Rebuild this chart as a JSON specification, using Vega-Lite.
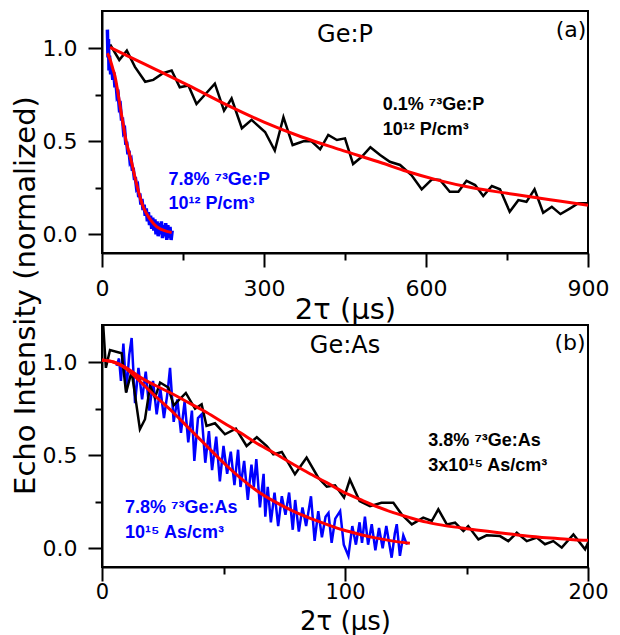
{
  "$schema": "https://vega.github.io/schema/vega-lite/v6.json",
  "background": "white",
  "padding": {"left": 10, "top": 10, "right": 5, "bottom": 0},
  "bounds": "flush",
  "spacing": 72,
  "config": {
    "view": {"stroke": "black", "strokeWidth": 2},
    "axis": {
      "domainColor": "black", "domainWidth": 2, "tickColor": "black", "tickWidth": 2,
      "labelColor": "black", "titleColor": "black", "labelFont": "DejaVu Sans", "labelFontSize": 22,
      "titleFont": "DejaVu Sans", "titleFontSize": 29, "titleFontWeight": "normal",
      "grid": false, "labelFlush": false, "labelOverlap": false
    },
    "text": {"font": "Liberation Sans"}
  },
  "datasets": {
    "topBlack": [
      {"x": 15, "y": 1.02}, {"x": 32, "y": 0.937}, {"x": 46, "y": 0.987}, {"x": 61, "y": 0.9}, {"x": 80, "y": 0.82},
      {"x": 95, "y": 0.83}, {"x": 113, "y": 0.866}, {"x": 129, "y": 0.88}, {"x": 144, "y": 0.79}, {"x": 160, "y": 0.8},
      {"x": 175, "y": 0.7}, {"x": 193, "y": 0.758}, {"x": 209, "y": 0.81}, {"x": 226, "y": 0.665}, {"x": 240, "y": 0.73},
      {"x": 259, "y": 0.57}, {"x": 277, "y": 0.615}, {"x": 302, "y": 0.55}, {"x": 320, "y": 0.45}, {"x": 336, "y": 0.63},
      {"x": 353, "y": 0.48}, {"x": 373, "y": 0.5}, {"x": 388, "y": 0.5}, {"x": 404, "y": 0.457}, {"x": 419, "y": 0.534},
      {"x": 435, "y": 0.507}, {"x": 450, "y": 0.516}, {"x": 465, "y": 0.378}, {"x": 481, "y": 0.417}, {"x": 497, "y": 0.468},
      {"x": 515, "y": 0.426}, {"x": 533, "y": 0.39}, {"x": 552, "y": 0.373}, {"x": 573, "y": 0.319}, {"x": 592, "y": 0.242},
      {"x": 611, "y": 0.296}, {"x": 626, "y": 0.292}, {"x": 644, "y": 0.229}, {"x": 660, "y": 0.229}, {"x": 675, "y": 0.288},
      {"x": 691, "y": 0.265}, {"x": 706, "y": 0.206}, {"x": 722, "y": 0.26}, {"x": 737, "y": 0.242}, {"x": 755, "y": 0.122},
      {"x": 771, "y": 0.184}, {"x": 786, "y": 0.175}, {"x": 801, "y": 0.242}, {"x": 817, "y": 0.116}, {"x": 833, "y": 0.148},
      {"x": 849, "y": 0.109}, {"x": 867, "y": 0.14}, {"x": 882, "y": 0.167}, {"x": 900, "y": 0.167}
    ],
    "topBlackFit": [
      {"x": 15, "y": 1.005}, {"x": 50, "y": 0.955}, {"x": 100, "y": 0.885}, {"x": 160, "y": 0.8}, {"x": 230, "y": 0.697},
      {"x": 300, "y": 0.603}, {"x": 370, "y": 0.523}, {"x": 441, "y": 0.455}, {"x": 520, "y": 0.382}, {"x": 564, "y": 0.339},
      {"x": 620, "y": 0.293}, {"x": 688, "y": 0.249}, {"x": 750, "y": 0.221}, {"x": 799, "y": 0.199}, {"x": 850, "y": 0.178},
      {"x": 900, "y": 0.157}
    ],
    "topBlue": [
      {"x": 10, "y": 1.1}, {"x": 11, "y": 0.95}, {"x": 12, "y": 1.05}, {"x": 13, "y": 0.88}, {"x": 14, "y": 0.96},
      {"x": 16, "y": 0.86}, {"x": 18, "y": 0.9}, {"x": 20, "y": 0.83}, {"x": 22, "y": 0.87}, {"x": 24, "y": 0.79},
      {"x": 26, "y": 0.81}, {"x": 28, "y": 0.74}, {"x": 30, "y": 0.75}, {"x": 32, "y": 0.68}, {"x": 34, "y": 0.69},
      {"x": 36, "y": 0.62}, {"x": 38, "y": 0.62}, {"x": 40, "y": 0.55}, {"x": 42, "y": 0.56}, {"x": 44, "y": 0.49},
      {"x": 46, "y": 0.49}, {"x": 48, "y": 0.43}, {"x": 50, "y": 0.45}, {"x": 52, "y": 0.39}, {"x": 54, "y": 0.4},
      {"x": 56, "y": 0.35}, {"x": 58, "y": 0.35}, {"x": 60, "y": 0.3}, {"x": 62, "y": 0.3}, {"x": 64, "y": 0.25},
      {"x": 66, "y": 0.26}, {"x": 68, "y": 0.2}, {"x": 70, "y": 0.22}, {"x": 72, "y": 0.16}, {"x": 74, "y": 0.19},
      {"x": 76, "y": 0.13}, {"x": 78, "y": 0.16}, {"x": 80, "y": 0.1}, {"x": 82, "y": 0.14}, {"x": 84, "y": 0.07},
      {"x": 86, "y": 0.12}, {"x": 88, "y": 0.05}, {"x": 90, "y": 0.1}, {"x": 92, "y": 0.03}, {"x": 94, "y": 0.09},
      {"x": 96, "y": 0.02}, {"x": 98, "y": 0.08}, {"x": 100, "y": 0.0}, {"x": 102, "y": 0.07}, {"x": 104, "y": -0.01},
      {"x": 106, "y": 0.06}, {"x": 108, "y": 0.0}, {"x": 110, "y": 0.07}, {"x": 112, "y": -0.02}, {"x": 114, "y": 0.05},
      {"x": 116, "y": -0.01}, {"x": 118, "y": 0.06}, {"x": 120, "y": -0.03}, {"x": 122, "y": 0.05}, {"x": 124, "y": -0.02},
      {"x": 126, "y": 0.04}, {"x": 128, "y": -0.03}, {"x": 130, "y": 0.02}
    ],
    "topBlueFit": [
      {"x": 10, "y": 0.973}, {"x": 15, "y": 0.94}, {"x": 20, "y": 0.89}, {"x": 24, "y": 0.85}, {"x": 29, "y": 0.77},
      {"x": 34, "y": 0.68}, {"x": 39, "y": 0.595}, {"x": 44, "y": 0.51}, {"x": 50, "y": 0.44}, {"x": 55, "y": 0.385},
      {"x": 60, "y": 0.32}, {"x": 64, "y": 0.27}, {"x": 70, "y": 0.205}, {"x": 76, "y": 0.15}, {"x": 83, "y": 0.11},
      {"x": 92, "y": 0.07}, {"x": 101, "y": 0.042}, {"x": 110, "y": 0.027}, {"x": 120, "y": 0.016}, {"x": 129, "y": 0.01}
    ],
    "botBlack": [
      {"x": 0.5, "y": 1.2}, {"x": 1.6, "y": 0.97}, {"x": 3.3, "y": 1.066}, {"x": 8.1, "y": 1.048}, {"x": 9.9, "y": 0.837},
      {"x": 12.2, "y": 0.95}, {"x": 15.6, "y": 0.64}, {"x": 17.7, "y": 0.694}, {"x": 19.8, "y": 0.874}, {"x": 21.8, "y": 0.81},
      {"x": 23.9, "y": 0.891}, {"x": 27.3, "y": 0.864}, {"x": 29.5, "y": 0.768}, {"x": 34.5, "y": 0.835}, {"x": 38.3, "y": 0.75},
      {"x": 41, "y": 0.774}, {"x": 43, "y": 0.658}, {"x": 46.5, "y": 0.672}, {"x": 50.6, "y": 0.613}, {"x": 55.1, "y": 0.643},
      {"x": 59.5, "y": 0.55}, {"x": 63.7, "y": 0.597}, {"x": 67.8, "y": 0.55}, {"x": 70.5, "y": 0.505}, {"x": 74, "y": 0.518},
      {"x": 79.4, "y": 0.398}, {"x": 84.2, "y": 0.488}, {"x": 89, "y": 0.38}, {"x": 92.5, "y": 0.331}, {"x": 95.9, "y": 0.339},
      {"x": 99.6, "y": 0.273}, {"x": 102, "y": 0.37}, {"x": 106, "y": 0.254}, {"x": 110.3, "y": 0.227}, {"x": 115, "y": 0.245},
      {"x": 119.9, "y": 0.245}, {"x": 123.3, "y": 0.183}, {"x": 127.5, "y": 0.129}, {"x": 132.2, "y": 0.165}, {"x": 135.7, "y": 0.147},
      {"x": 138.4, "y": 0.21}, {"x": 141.9, "y": 0.129}, {"x": 145.3, "y": 0.138}, {"x": 148.7, "y": 0.093}, {"x": 150.7, "y": 0.12},
      {"x": 154.9, "y": 0.048}, {"x": 158.3, "y": 0.07}, {"x": 163.8, "y": 0.066}, {"x": 167.2, "y": 0.039}, {"x": 170.7, "y": 0.084},
      {"x": 174.8, "y": 0.039}, {"x": 178.9, "y": 0.058}, {"x": 182.3, "y": 0.022}, {"x": 185.7, "y": 0.039}, {"x": 189.2, "y": 0.004},
      {"x": 194, "y": 0.075}, {"x": 198.8, "y": -0.005}, {"x": 200, "y": 0.03}
    ],
    "botBlackFit": [
      {"x": 0, "y": 1.012}, {"x": 5, "y": 1.0}, {"x": 10, "y": 0.97}, {"x": 15.6, "y": 0.92}, {"x": 22, "y": 0.875},
      {"x": 29.3, "y": 0.828}, {"x": 36, "y": 0.78}, {"x": 43.1, "y": 0.73}, {"x": 50, "y": 0.675}, {"x": 56.8, "y": 0.622},
      {"x": 63, "y": 0.57}, {"x": 70.5, "y": 0.515}, {"x": 78.7, "y": 0.452}, {"x": 85, "y": 0.405}, {"x": 92.5, "y": 0.353},
      {"x": 99, "y": 0.305}, {"x": 106.2, "y": 0.263}, {"x": 113, "y": 0.225}, {"x": 119.9, "y": 0.192}, {"x": 126.7, "y": 0.165},
      {"x": 133.6, "y": 0.141}, {"x": 140, "y": 0.125}, {"x": 147.3, "y": 0.111}, {"x": 154, "y": 0.099}, {"x": 161, "y": 0.088},
      {"x": 168, "y": 0.077}, {"x": 174.8, "y": 0.066}, {"x": 181, "y": 0.059}, {"x": 188.5, "y": 0.052}, {"x": 194, "y": 0.047},
      {"x": 200, "y": 0.043}
    ],
    "botBlue": [
      {"x": 6, "y": 0.98}, {"x": 7, "y": 1.02}, {"x": 7.8, "y": 0.9}, {"x": 8.8, "y": 1.1}, {"x": 10, "y": 0.84},
      {"x": 11.2, "y": 1.04}, {"x": 12.2, "y": 1.13}, {"x": 13.6, "y": 0.78}, {"x": 15, "y": 0.97}, {"x": 16.5, "y": 0.8},
      {"x": 18, "y": 0.95}, {"x": 19.5, "y": 0.74}, {"x": 21, "y": 0.9}, {"x": 22.5, "y": 0.72}, {"x": 24, "y": 0.86},
      {"x": 25.5, "y": 0.7}, {"x": 27, "y": 0.84}, {"x": 28, "y": 0.97}, {"x": 29.5, "y": 0.68}, {"x": 31, "y": 0.8},
      {"x": 32.5, "y": 0.62}, {"x": 34, "y": 0.79}, {"x": 35.5, "y": 0.57}, {"x": 37, "y": 0.74}, {"x": 38, "y": 0.47},
      {"x": 39.5, "y": 0.7}, {"x": 41, "y": 0.72}, {"x": 42.5, "y": 0.46}, {"x": 44, "y": 0.63}, {"x": 45.3, "y": 0.42},
      {"x": 47, "y": 0.6}, {"x": 48.5, "y": 0.36}, {"x": 50, "y": 0.55}, {"x": 51.5, "y": 0.4}, {"x": 53, "y": 0.52},
      {"x": 54.5, "y": 0.34}, {"x": 56, "y": 0.53}, {"x": 57, "y": 0.33}, {"x": 58.5, "y": 0.47}, {"x": 60, "y": 0.26},
      {"x": 61.5, "y": 0.45}, {"x": 62.5, "y": 0.33}, {"x": 63.5, "y": 0.48}, {"x": 65, "y": 0.22}, {"x": 66.5, "y": 0.4},
      {"x": 67.2, "y": 0.17}, {"x": 68.2, "y": 0.33}, {"x": 69.5, "y": 0.14}, {"x": 71, "y": 0.3}, {"x": 72.5, "y": 0.12},
      {"x": 74, "y": 0.28}, {"x": 75.5, "y": 0.18}, {"x": 77, "y": 0.3}, {"x": 78.5, "y": 0.1}, {"x": 79.5, "y": 0.26},
      {"x": 81, "y": 0.09}, {"x": 82.5, "y": 0.22}, {"x": 84, "y": 0.12}, {"x": 86, "y": 0.28}, {"x": 87.5, "y": 0.04},
      {"x": 89, "y": 0.2}, {"x": 90.5, "y": 0.06}, {"x": 92, "y": 0.17}, {"x": 93.2, "y": 0.19}, {"x": 94.5, "y": 0.03},
      {"x": 96, "y": 0.16}, {"x": 98, "y": 0.2}, {"x": 99.5, "y": 0.02}, {"x": 101.4, "y": -0.04}, {"x": 103, "y": 0.12},
      {"x": 104.5, "y": 0.02}, {"x": 106, "y": 0.14}, {"x": 107, "y": 0.03}, {"x": 108.2, "y": 0.17}, {"x": 109.5, "y": 0.02},
      {"x": 111, "y": 0.13}, {"x": 112.5, "y": -0.01}, {"x": 114, "y": 0.11}, {"x": 115.5, "y": 0.0}, {"x": 117, "y": 0.12},
      {"x": 119.2, "y": -0.05}, {"x": 120.5, "y": 0.08}, {"x": 121.3, "y": 0.13}, {"x": 122.6, "y": -0.04}, {"x": 124, "y": 0.07},
      {"x": 125.5, "y": 0.02}
    ],
    "botBlueFit": [
      {"x": 0, "y": 1.01}, {"x": 5, "y": 1.0}, {"x": 10, "y": 0.965}, {"x": 15, "y": 0.905}, {"x": 21.1, "y": 0.828},
      {"x": 29.3, "y": 0.73}, {"x": 36.2, "y": 0.64}, {"x": 43.1, "y": 0.55}, {"x": 50, "y": 0.46}, {"x": 56.8, "y": 0.38},
      {"x": 63.7, "y": 0.31}, {"x": 70.5, "y": 0.255}, {"x": 78.7, "y": 0.2}, {"x": 86, "y": 0.16}, {"x": 92.5, "y": 0.129},
      {"x": 99, "y": 0.1}, {"x": 106.2, "y": 0.075}, {"x": 113, "y": 0.055}, {"x": 119.9, "y": 0.039}, {"x": 126.7, "y": 0.027}
    ]
  },
  "vconcat": [
    {
      "width": 486,
      "height": 242,
      "layer": [
        {"data": {"name": "topBlack"}, "mark": {"type": "line", "color": "black", "strokeWidth": 2.5},
         "encoding": {
          "x": {
            "field": "x", "type": "quantitative",
            "scale": {"domain": [0, 900], "nice": false, "zero": false},
            "axis": {
              "title": "2τ (μs)",
              "values": [0, 150, 300, 450, 600, 750, 900],
              "labelExpr": "datum.value % 300 === 0 ? datum.label : ''",
              "tickSize": {"condition": {"test": "datum.value % 300 !== 0", "value": 7}, "value": 14},
              "labelPadding": 11,
              "titleY": 42, "titleBaseline": "top"
            }
          },
          "y": {
            "field": "y", "type": "quantitative",
            "scale": {"domain": [-0.1, 1.2], "nice": false, "zero": false},
            "axis": {
              "title": "Echo Intensity (normalized)",
              "values": [0, 0.25, 0.5, 0.75, 1],
              "format": ".1f",
              "labelExpr": "datum.value === 0.25 || datum.value === 0.75 ? '' : datum.label",
              "tickSize": {"condition": {"test": "datum.value === 0.25 || datum.value === 0.75", "value": 7}, "value": 14},
              "labelPadding": 11,
              "titleX": -77, "titleY": 284, "titleAlign": "center", "titleBaseline": "middle", "titleAngle": -90
            }
          }
        }},
        {"data": {"name": "topBlue"}, "mark": {"type": "line", "color": "#0000ff", "strokeWidth": 3.5},
         "encoding": {"x": {"field": "x", "type": "quantitative"}, "y": {"field": "y", "type": "quantitative"}}},
        {"data": {"name": "topBlackFit"}, "mark": {"type": "line", "color": "#ff0000", "strokeWidth": 3, "interpolate": "monotone"},
         "encoding": {"x": {"field": "x", "type": "quantitative"}, "y": {"field": "y", "type": "quantitative"}}},
        {"data": {"name": "topBlueFit"}, "mark": {"type": "line", "color": "#ff0000", "strokeWidth": 3, "interpolate": "monotone"},
         "encoding": {"x": {"field": "x", "type": "quantitative"}, "y": {"field": "y", "type": "quantitative"}}},
        {"data": {"values": [{}]}, "mark": {"type": "text", "align": "center", "baseline": "alphabetic", "font": "DejaVu Sans", "fontSize": 24, "color": "black"},
         "encoding": {"x": {"datum": 450}, "y": {"datum": 1.034}, "text": {"value": "Ge:P"}}},
        {"data": {"values": [{}]}, "mark": {"type": "text", "align": "right", "baseline": "alphabetic", "font": "DejaVu Sans", "fontSize": 22, "color": "black"},
         "encoding": {"x": {"datum": 897}, "y": {"datum": 1.062}, "text": {"value": "(a)"}}},
        {"data": {"values": [{}]}, "mark": {"type": "text", "align": "left", "baseline": "alphabetic", "fontWeight": "bold", "fontSize": 18, "color": "black"},
         "encoding": {"x": {"datum": 520}, "y": {"datum": 0.668}, "text": {"value": "0.1% ⁷³Ge:P"}}},
        {"data": {"values": [{}]}, "mark": {"type": "text", "align": "left", "baseline": "alphabetic", "fontWeight": "bold", "fontSize": 18, "color": "black"},
         "encoding": {"x": {"datum": 520}, "y": {"datum": 0.534}, "text": {"value": "10¹² P/cm³"}}},
        {"data": {"values": [{}]}, "mark": {"type": "text", "align": "left", "baseline": "alphabetic", "fontWeight": "bold", "fontSize": 18, "color": "#0000ff"},
         "encoding": {"x": {"datum": 123}, "y": {"datum": 0.265}, "text": {"value": "7.8% ⁷³Ge:P"}}},
        {"data": {"values": [{}]}, "mark": {"type": "text", "align": "left", "baseline": "alphabetic", "fontWeight": "bold", "fontSize": 18, "color": "#0000ff"},
         "encoding": {"x": {"datum": 123}, "y": {"datum": 0.134}, "text": {"value": "10¹² P/cm³"}}}
      ]
    },
    {
      "width": 486,
      "height": 242,
      "layer": [
        {"data": {"name": "botBlue"}, "mark": {"type": "line", "color": "#0000ff", "strokeWidth": 2.5},
         "encoding": {
          "x": {
            "field": "x", "type": "quantitative",
            "scale": {"domain": [0, 200], "nice": false, "zero": false},
            "axis": {
              "title": "2τ (μs)",
              "values": [0, 50, 100, 150, 200],
              "labelExpr": "datum.value % 100 === 0 ? datum.label : ''",
              "tickSize": {"condition": {"test": "datum.value % 100 !== 0", "value": 7}, "value": 14},
              "labelPadding": 0, "labelFontSize": 21,
              "titleY": 41, "titleBaseline": "top", "titleFontSize": 26
            }
          },
          "y": {
            "field": "y", "type": "quantitative",
            "scale": {"domain": [-0.1, 1.2], "nice": false, "zero": false},
            "axis": {
              "title": null,
              "values": [0, 0.25, 0.5, 0.75, 1],
              "format": ".1f",
              "labelExpr": "datum.value === 0.25 || datum.value === 0.75 ? '' : datum.label",
              "tickSize": {"condition": {"test": "datum.value === 0.25 || datum.value === 0.75", "value": 7}, "value": 14},
              "labelPadding": 11
            }
          }
        }},
        {"data": {"name": "botBlack"}, "mark": {"type": "line", "color": "black", "strokeWidth": 2.5},
         "encoding": {"x": {"field": "x", "type": "quantitative"}, "y": {"field": "y", "type": "quantitative"}}},
        {"data": {"name": "botBlackFit"}, "mark": {"type": "line", "color": "#ff0000", "strokeWidth": 3, "interpolate": "monotone"},
         "encoding": {"x": {"field": "x", "type": "quantitative"}, "y": {"field": "y", "type": "quantitative"}}},
        {"data": {"name": "botBlueFit"}, "mark": {"type": "line", "color": "#ff0000", "strokeWidth": 3, "interpolate": "monotone"},
         "encoding": {"x": {"field": "x", "type": "quantitative"}, "y": {"field": "y", "type": "quantitative"}}},
        {"data": {"values": [{}]}, "mark": {"type": "text", "align": "center", "baseline": "alphabetic", "font": "DejaVu Sans", "fontSize": 24, "color": "black"},
         "encoding": {"x": {"datum": 100}, "y": {"datum": 1.052}, "text": {"value": "Ge:As"}}},
        {"data": {"values": [{}]}, "mark": {"type": "text", "align": "right", "baseline": "alphabetic", "font": "DejaVu Sans", "fontSize": 22, "color": "black"},
         "encoding": {"x": {"datum": 199}, "y": {"datum": 1.068}, "text": {"value": "(b)"}}},
        {"data": {"values": [{}]}, "mark": {"type": "text", "align": "left", "baseline": "alphabetic", "fontWeight": "bold", "fontSize": 18, "color": "black"},
         "encoding": {"x": {"datum": 134.3}, "y": {"datum": 0.55}, "text": {"value": "3.8% ⁷³Ge:As"}}},
        {"data": {"values": [{}]}, "mark": {"type": "text", "align": "left", "baseline": "alphabetic", "fontWeight": "bold", "fontSize": 18, "color": "black"},
         "encoding": {"x": {"datum": 134.3}, "y": {"datum": 0.416}, "text": {"value": "3x10¹⁵ As/cm³"}}},
        {"data": {"values": [{}]}, "mark": {"type": "text", "align": "left", "baseline": "alphabetic", "fontWeight": "bold", "fontSize": 18, "color": "#0000ff"},
         "encoding": {"x": {"datum": 9.5}, "y": {"datum": 0.192}, "text": {"value": "7.8% ⁷³Ge:As"}}},
        {"data": {"values": [{}]}, "mark": {"type": "text", "align": "left", "baseline": "alphabetic", "fontWeight": "bold", "fontSize": 18, "color": "#0000ff"},
         "encoding": {"x": {"datum": 9.5}, "y": {"datum": 0.058}, "text": {"value": "10¹⁵ As/cm³"}}}
      ]
    }
  ]
}
